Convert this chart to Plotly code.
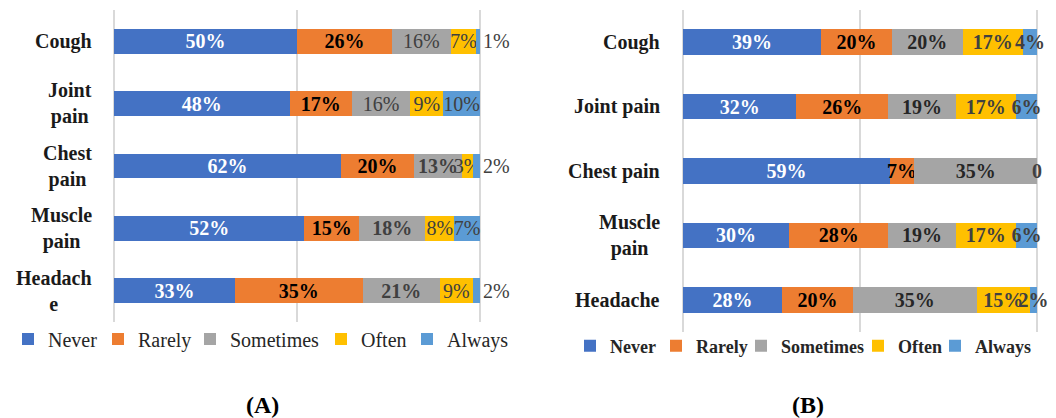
import plotly.graph_objects as go

# ---------------- data ----------------
levels = ["Never", "Rarely", "Sometimes", "Often", "Always"]
level_colors = ["#4472C4", "#ED7D31", "#A5A5A5", "#FFC000", "#5B9BD5"]

symptoms = ["Cough", "Joint pain", "Chest pain", "Muscle pain", "Headache"]
labels_a = ["Cough", "Joint<br>pain", "Chest<br>pain", "Muscle<br>pain", "Headach<br>e"]
labels_b = ["Cough", "Joint pain", "Chest pain", "Muscle<br>pain", "Headache"]

never_a = [50, 48, 62, 52, 33]
rarely_a = [26, 17, 20, 15, 35]
sometimes_a = [16, 16, 13, 18, 21]
often_a = [7, 9, 3, 8, 9]
always_a = [1, 10, 2, 7, 2]

never_b = [39, 32, 59, 30, 28]
rarely_b = [20, 26, 7, 28, 20]
sometimes_b = [20, 19, 35, 19, 35]
often_b = [17, 17, 0, 17, 15]
always_b = [4, 6, 0, 6, 2]

series_a = [never_a, rarely_a, sometimes_a, often_a, always_a]
series_b = [never_b, rarely_b, sometimes_b, often_b, always_b]

# ---------------- style ----------------
FONT = "'Liberation Serif', 'DejaVu Serif', serif"
FS = 20
W, H = 1056, 418

text_colors_a = ["#FFFFFF", "#000000", "#404040", "#404040", "#404040"]
text_weights_a = [
    ["bold"] * 5,
    ["bold"] * 5,
    ["normal", "normal", "bold", "bold", "bold"],
    ["normal"] * 5,
    ["normal"] * 5,
]
textpos_always_a = ["outside", "inside", "outside", "inside", "outside"]
text_colors_b = ["#FFFFFF", "#000000", "#262626", "#404040", "#404040"]

# legend entry widths (px) so the legend rows keep the original spacing
legend_w_a = [45, 47, 86, 41, 61]
legend_w_b = [41, 40, 72, 32, 56]

fig = go.Figure()


def pct_text(vals):
    return [f"{v}%" if v else "" for v in vals]


for i, lev in enumerate(levels):
    fig.add_trace(go.Bar(
        name=lev, y=symptoms, x=series_a[i], orientation="h",
        marker=dict(color=level_colors[i], line=dict(width=0)),
        text=pct_text(series_a[i]),
        textposition=textpos_always_a if lev == "Always" else "inside",
        insidetextanchor="middle", textangle=0, constraintext="none",
        textfont=dict(family=FONT, size=FS, color=text_colors_a[i], weight=text_weights_a[i]),
        outsidetextfont=dict(family=FONT, size=FS, color=text_colors_a[i]),
        cliponaxis=False, xaxis="x", yaxis="y", legend="legend",
        legendwidth=legend_w_a[i], hoverinfo="skip",
    ))

for i, lev in enumerate(levels):
    fig.add_trace(go.Bar(
        name=lev, y=symptoms, x=series_b[i], orientation="h",
        marker=dict(color=level_colors[i], line=dict(width=0)),
        text=pct_text(series_b[i]),
        textposition="inside",
        insidetextanchor="middle", textangle=0, constraintext="none",
        textfont=dict(family=FONT, size=FS, color=text_colors_b[i], weight="bold"),
        cliponaxis=False, xaxis="x2", yaxis="y2", legend="legend2",
        legendwidth=legend_w_b[i], hoverinfo="skip",
    ))

# zero-valued "Often" segments in panel B are labelled "0" at their (normalised) position
for j, s in enumerate(symptoms):
    if often_b[j] == 0:
        tot = sum(ser[j] for ser in series_b)
        cum = sum(ser[j] for ser in series_b[:4]) / tot * 100
        fig.add_annotation(x=cum, y=s, xref="x2", yref="y2", text="<b>0</b>",
                           showarrow=False, xanchor="center", yanchor="middle",
                           font=dict(family=FONT, size=FS, color="#404040"))

# category labels (centered multi-line like the original)
for s, lab in zip(symptoms, labels_a):
    fig.add_annotation(x=94 / W, y=s, xref="paper", yref="y", text=f"<b>{lab}</b>",
                       showarrow=False, xanchor="right", yanchor="middle", align="center",
                       font=dict(family=FONT, size=FS, color="#1a1a1a"))
for s, lab in zip(symptoms, labels_b):
    fig.add_annotation(x=662 / W, y=s, xref="paper", yref="y2", text=f"<b>{lab}</b>",
                       showarrow=False, xanchor="right", yanchor="middle", align="center",
                       font=dict(family=FONT, size=FS, color="#1a1a1a"))

# panel captions
fig.add_annotation(x=262 / W, y=1 - 405 / H, xref="paper", yref="paper", text="<b>(A)</b>",
                   showarrow=False, xanchor="center", yanchor="middle",
                   font=dict(family=FONT, size=24, color="#000"))
fig.add_annotation(x=808 / W, y=1 - 405 / H, xref="paper", yref="paper", text="<b>(B)</b>",
                   showarrow=False, xanchor="center", yanchor="middle",
                   font=dict(family=FONT, size=24, color="#000"))

PAD = 0.3  # small range padding so the 0% / 100% gridlines are drawn
xcommon = dict(range=[-PAD, 100 + PAD], tick0=0, dtick=50, showgrid=True, gridcolor="#d9d9d9",
               gridwidth=2, showticklabels=False, zeroline=False, showline=False,
               fixedrange=True)
ycommon = dict(type="category", categoryorder="array", categoryarray=symptoms[::-1],
               range=[-0.5, 4.5], showticklabels=False, showgrid=False, zeroline=False,
               showline=False, fixedrange=True)


def xdom(x0, x1):
    span = (x1 - x0) / 100.0
    return [(x0 - PAD * span) / W, (x1 + PAD * span) / W]


fig.update_layout(
    width=W, height=H,
    margin=dict(l=0, r=0, t=0, b=0, autoexpand=False),
    paper_bgcolor="white", plot_bgcolor="white",
    barmode="stack", barnorm="percent", bargap=0.6,
    showlegend=True,
    xaxis=dict(domain=xdom(114, 480), anchor="y", **xcommon),
    yaxis=dict(domain=[1 - 322 / H, 1 - 10 / H], anchor="x", **ycommon),
    xaxis2=dict(domain=xdom(683, 1037), anchor="y2", **xcommon),
    yaxis2=dict(domain=[1 - 332 / H, 1 - 10 / H], anchor="x2", **ycommon),
    legend=dict(orientation="h", x=8 / W, y=1 - 339 / H, xanchor="left", yanchor="middle",
                font=dict(family=FONT, size=20, color="#262626"), traceorder="normal",
                bgcolor="rgba(0,0,0,0)"),
    legend2=dict(orientation="h", x=570 / W, y=1 - 346 / H, xanchor="left", yanchor="middle",
                 font=dict(family=FONT, size=18, color="#262626", weight="bold"),
                 traceorder="normal", bgcolor="rgba(0,0,0,0)"),
)

fig.write_html("out.html", config={"displayModeBar": False},
               post_script="document.body.style.margin='0';")
